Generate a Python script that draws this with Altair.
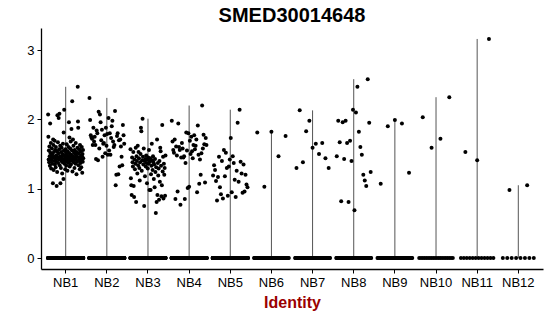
import altair as alt
import pandas as pd

groups = ["NB1", "NB2", "NB3", "NB4", "NB5", "NB6", "NB7", "NB8", "NB9", "NB10", "NB11", "NB12"]

# non-zero expression values, listed roughly left-to-right as seen in the reference
nb1 = [2.07, 1.75, 1.42, 1.55, 1.38, 1.61, 1.47, 1.33, 1.94, 1.52, 1.44, 1.66, 1.29, 1.49, 1.41, 1.58, 1.36,
       1.50, 1.45, 1.08, 1.71, 1.63, 1.27, 1.53, 1.40, 1.46, 1.69, 1.35, 1.56, 1.43, 1.31, 1.60, 1.48, 1.39,
       1.04, 1.54, 1.24, 2.06, 1.45, 1.67, 1.37, 1.51, 2.02, 1.42, 1.57, 2.08, 1.34, 1.47, 1.62, 1.08, 1.44,
       1.30, 1.53, 1.40, 1.59, 1.46, 1.22, 1.50, 1.38, 1.65, 1.43, 1.14, 1.81, 1.55, 2.14, 1.36, 1.48, 1.41,
       1.28, 1.57, 1.45, 1.52, 1.33, 1.49, 1.64, 1.39, 1.44, 1.26, 1.54, 1.47, 1.37, 1.60, 1.42, 1.96, 1.51,
       1.74, 1.32, 1.46, 1.58, 1.40, 1.68, 1.35, 1.49, 1.86, 1.43, 1.55, 2.26, 1.25, 1.47, 1.71, 1.41, 1.62,
       1.38, 1.52, 1.45, 1.30, 1.56, 1.44, 1.50, 1.36, 1.66, 1.42, 1.48, 1.21, 1.53, 1.39, 1.46, 1.59, 2.47,
       1.97, 1.88, 1.34, 1.51, 1.43, 1.57, 1.40, 1.28, 1.63, 1.45, 1.37, 1.54, 1.48, 1.31, 1.42, 1.60, 1.47,
       1.23, 1.50, 1.39, 1.56, 1.44]
nb2 = [2.31, 1.99, 1.77, 1.74, 1.72, 1.63, 1.88, 1.68, 1.75, 1.63, 1.43, 1.84, 1.80, 1.41, 2.11, 1.58,
       2.07, 1.96, 1.70, 1.85, 1.46, 1.65, 1.66, 1.77, 1.51, 1.88, 1.62, 1.79, 1.49, 2.02, 1.55, 1.80, 1.49,
       1.73, 1.90, 1.98, 1.68, 1.60, 1.63, 2.12, 1.05, 1.20, 1.76, 1.80, 1.21, 1.70, 1.32, 1.71, 1.61, 1.46,
       1.34, 1.92, 1.77, 1.65]
nb3 = [1.57, 1.15, 1.05, 0.91, 1.45, 1.38, 1.32, 1.53, 1.04, 0.88, 1.42, 1.28, 1.36, 1.59,
       0.81, 1.47, 1.40, 1.22, 1.62, 1.34, 1.53, 1.44, 1.30, 1.12, 1.38, 1.50, 1.88, 1.83, 1.26, 1.41,
       2.01, 1.46, 1.35, 1.58, 0.75, 1.40, 1.18, 1.43, 1.32, 1.48, 1.37, 1.08, 1.42, 1.29, 1.45, 1.36,
       1.56, 0.98, 1.39, 1.44, 0.98, 1.21, 1.33, 1.65, 1.41, 1.27, 1.47, 1.38, 1.14, 1.35, 1.02,
       1.43, 1.24, 0.65, 1.31, 0.81, 1.71, 0.91, 1.37, 1.19, 1.29, 0.84, 1.40, 1.10,
       1.59, 1.54, 1.33, 0.89, 1.05, 1.92, 1.25, 1.46, 0.86, 1.36, 1.20, 1.30, 0.90, 1.48]
nb4 = [1.98, 1.68, 1.56, 1.52, 1.71, 0.85, 1.61, 1.48, 0.96, 1.94, 1.60, 1.56, 0.77, 1.45, 1.66,
       1.58, 1.45, 1.47, 0.85, 1.37, 1.81, 1.55, 1.01, 1.80, 1.03, 1.69, 1.50, 1.75, 1.54, 1.44, 1.63,
       1.77, 1.57, 1.62, 1.71, 0.95, 1.91, 1.49, 1.07, 1.42, 1.20, 1.51, 2.20, 1.58, 1.78, 1.64, 1.09,
       1.73, 1.63]
nb5 = [1.19, 1.34, 1.27, 1.11, 0.83, 1.17, 1.46, 1.02, 0.92, 1.40, 0.86, 1.56, 1.18, 1.52, 1.30,
       0.90, 1.32, 1.42, 1.73, 0.95, 1.47, 1.37, 1.13, 0.88, 1.26, 1.95, 1.10, 2.14, 1.39, 1.22, 0.94,
       1.35, 0.96, 1.20, 1.06, 1.02]
nb6 = [1.81, 1.03, 1.82, 1.47, 1.76]
nb7 = [1.30, 2.13, 1.38, 1.83, 1.98, 1.59, 1.65, 1.50, 1.66, 1.44, 1.30]
nb8 = [1.47, 1.98, 1.67, 0.82, 1.96, 1.43, 1.98, 1.66, 0.81, 1.69, 1.40, 2.14, 0.69, 2.10, 2.47,
       1.82, 1.60, 1.49, 1.20, 1.12, 1.04, 2.58, 1.95, 1.24]
nb9 = [1.07, 1.90, 1.99, 1.94, 1.23]
nb10 = [2.03, 1.59, 1.72, 2.32]
nb11 = [1.53, 1.41, 3.16]
nb12 = [0.98, 1.05]
positive = [nb1, nb2, nb3, nb4, nb5, nb6, nb7, nb8, nb9, nb10, nb11, nb12]

# number of cells with zero expression in each group
zero_counts = [400, 400, 400, 400, 400, 60, 80, 80, 60, 20, 12, 8]

rows = []
for g, vals, nz in zip(groups, positive, zero_counts):
    for v in vals:
        rows.append({"group": g, "value": v, "kind": "pos"})
    for _ in range(nz):
        rows.append({"group": g, "value": 0.0, "kind": "zero"})
df = pd.DataFrame(rows)

FONT = "Liberation Sans"
xscale = alt.Scale(type="band", domain=groups, paddingInner=0, paddingOuter=0.1)
yscale = alt.Scale(domain=[-0.158, 3.318], nice=False, zero=False)

xaxis = alt.Axis(title="Identity", labelAngle=0, labelFontSize=13, labelColor="#000000",
                 labelFont=FONT, labelPadding=3, tickSize=4, tickColor="#000000",
                 domainColor="#000000", domainWidth=1.3, titleFont=FONT, titleFontSize=16,
                 titleFontWeight="bold", titleColor="#9B0000", titlePadding=5)
yaxis = alt.Axis(title=None, values=[0, 1, 2, 3], grid=False, labelFontSize=13,
                 labelColor="#000000", labelFont=FONT, labelPadding=3, tickSize=4,
                 tickColor="#000000", domainColor="#000000", domainWidth=1.3)

rules = alt.Chart(df).transform_aggregate(
    vmax="max(value)", groupby=["group"]
).mark_rule(color="#555555", strokeWidth=1).encode(
    x=alt.X("group:N", scale=xscale, sort=groups, axis=xaxis),
    y=alt.Y("vmax:Q", scale=yscale, axis=yaxis),
    y2=alt.datum(0),
)

points = alt.Chart(df).transform_window(
    rank="row_number()", n="count()", groupby=["group", "kind"],
    frame=[None, None]
).transform_calculate(
    jit="((datum.rank - 0.5) / datum.n - 0.5) * 0.86"
).mark_circle(color="#000000", opacity=1, size=16).encode(
    x=alt.X("group:N", scale=xscale, sort=groups, axis=xaxis),
    xOffset=alt.XOffset("jit:Q", scale=alt.Scale(domain=[-0.5, 0.5])),
    y=alt.Y("value:Q", scale=yscale, axis=yaxis),
)

chart = alt.layer(rules, points).properties(
    width=502, height=241,
    title=alt.TitleParams("SMED30014648", font=FONT, fontSize=20, fontWeight="bold",
                          anchor="middle", color="#000000", offset=2),
    autosize=alt.AutoSizeParams(type="none"),
    padding={"left": 41, "top": 28, "right": 7, "bottom": 47},
).configure_view(stroke=None)

chart.save("out.html", embed_options={"renderer": "svg", "actions": False})
